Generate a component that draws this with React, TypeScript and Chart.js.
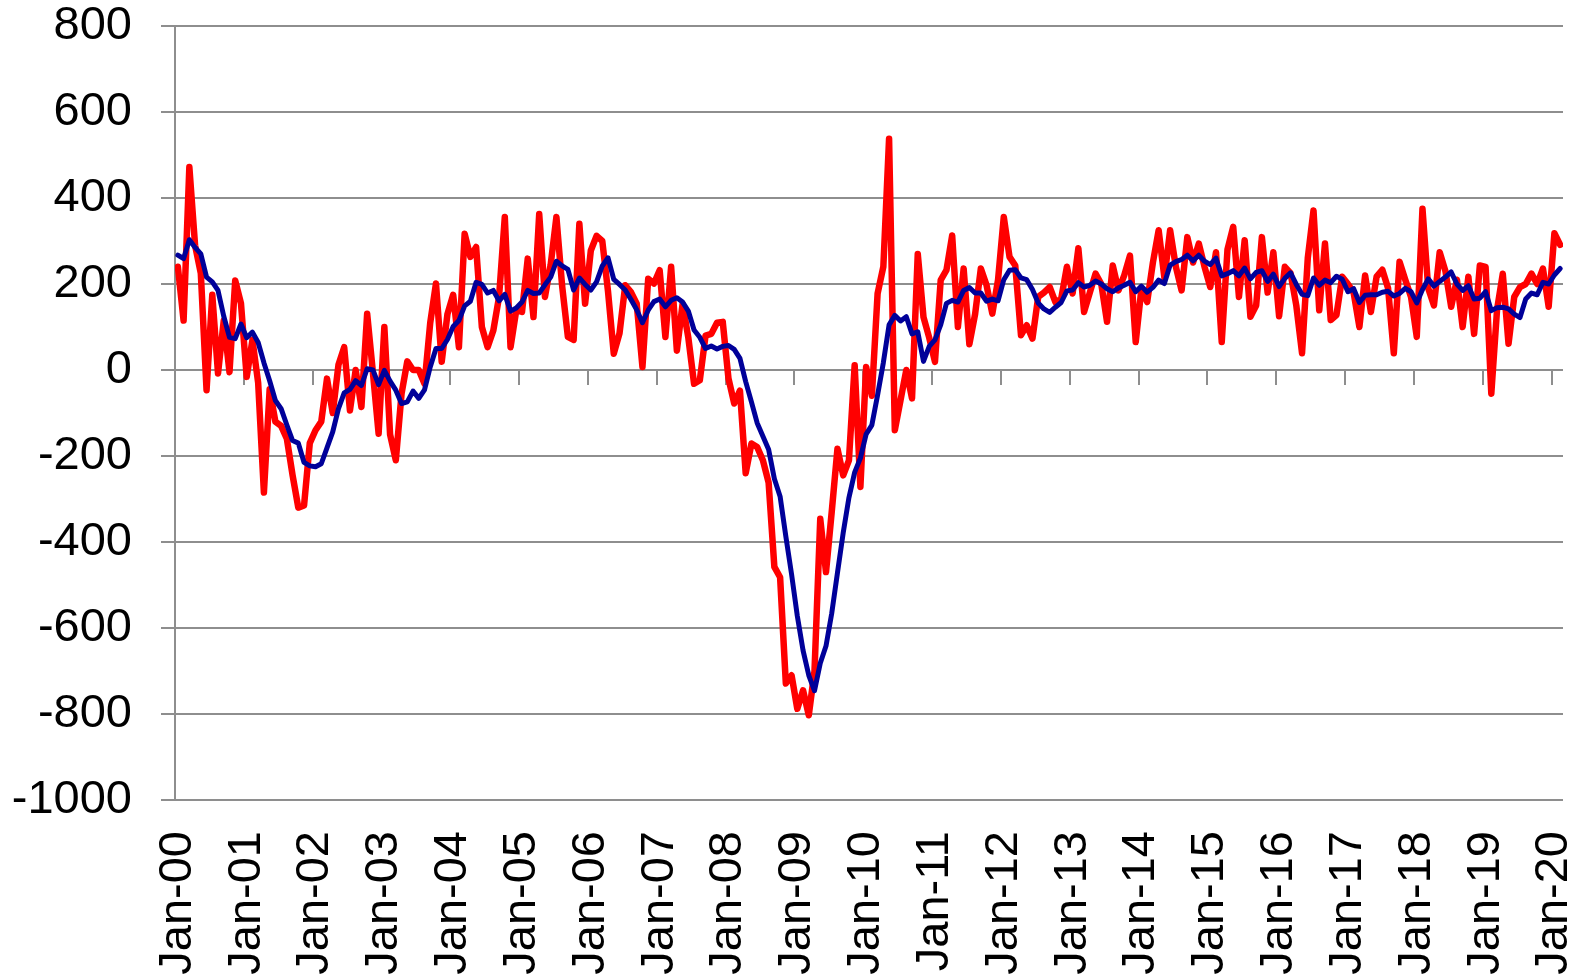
import React, { useEffect, useRef } from 'react';
import { Chart, registerables } from 'chart.js';

Chart.register(...registerables);

// Tick labels on the category axis (one every 12 months)
const yearLabels = [
  'Jan-00', 'Jan-01', 'Jan-02', 'Jan-03', 'Jan-04', 'Jan-05', 'Jan-06',
  'Jan-07', 'Jan-08', 'Jan-09', 'Jan-10', 'Jan-11', 'Jan-12', 'Jan-13',
  'Jan-14', 'Jan-15', 'Jan-16', 'Jan-17', 'Jan-18', 'Jan-19', 'Jan-20',
];

// Monthly change (red), Jan-00 .. Feb-20
const monthlyChange = [
  240, 115, 472, 290, 225, -47, 175, -8, 115, -5, 208, 155,
  -16, 70, -30, -285, -45, -120, -130, -160, -245, -320, -315, -170,
  -140, -120, -20, -100, 12, 53, -94, 0, -86, 131, -5, -148,
  100, -150, -210, -55, 20, 0, 0, -32, 110, 201, 19, 130,
  175, 53, 317, 263, 286, 100, 53, 92, 170, 356, 53, 139,
  135, 259, 123, 363, 170, 245, 356, 195, 77, 70, 340, 154,
  278, 312, 300, 182, 38, 85, 197, 181, 154, 7, 212, 201,
  232, 77, 240, 45, 154, 75, -32, -24, 80, 84, 110, 112,
  -20, -78, -48, -240, -171, -179, -210, -262, -458, -482, -729, -710,
  -788, -745, -803, -700, -346, -470, -330, -183, -245, -210, 11, -272,
  7, -60, 178, 240, 538, -140, -70, 0, -66, 270, 123, 75,
  19, 209, 232, 313, 100, 236, 60, 130, 236, 197, 131, 210,
  356, 263, 243, 81, 104, 73, 170, 180, 193, 158, 165, 240,
  178, 283, 135, 180, 224, 200, 112, 243, 185, 220, 266, 65,
  190, 158, 250, 325, 215, 325, 240, 185, 309, 250, 294, 240,
  193, 274, 65, 280, 333, 170, 302, 124, 150, 309, 180, 274,
  125, 240, 225, 150, 39, 260, 371, 139, 294, 116, 128, 217,
  200, 180, 100, 220, 135, 217, 233, 190, 39, 252, 210, 170,
  77, 375, 190, 150, 274, 230, 147, 210, 100, 217, 84, 243,
  240, -55, 140, 224, 61, 170, 193, 200, 224, 200, 236, 147,
  318, 291,
];

// Smoothed average (blue), Jan-00 .. Feb-20
const smoothedAverage = [
  267, 259, 303, 285, 270, 216, 205, 185, 125, 76, 73, 107,
  75, 88, 64, 17, -25, -71, -90, -128, -164, -170, -215, -223,
  -225, -218, -181, -144, -90, -53, -45, -25, -36, 3, 0, -34,
  -1, -26, -47, -78, -74, -49, -66, -46, 7, 50, 50, 71,
  101, 115, 149, 160, 204, 199, 179, 185, 161, 176, 137, 144,
  158, 185, 178, 179, 198, 216, 253, 242, 234, 186, 214, 199,
  186, 205, 242, 261, 211, 199, 186, 164, 140, 110, 139, 159,
  165, 147, 162, 168, 158, 137, 93, 76, 50, 56, 49, 55,
  57, 48, 27, -27, -74, -123, -154, -185, -253, -294, -387, -475,
  -572, -652, -710, -746, -682, -642, -566, -472, -379, -297, -238, -205,
  -149, -128, -58, 17, 105, 127, 114, 124, 84, 89, 20, 55,
  70, 105, 155, 162, 158, 185, 192, 179, 179, 160, 165, 161,
  210, 232, 233, 214, 210, 187, 156, 142, 134, 146, 157, 184,
  186, 203, 193, 197, 207, 200, 189, 182, 191, 197, 204, 182,
  195, 181, 192, 209, 201, 244, 252, 257, 267, 254, 267, 253,
  245, 260, 219, 224, 231, 219, 237, 212, 227, 231, 206, 223,
  194, 213, 226, 199, 176, 173, 214, 197, 209, 203, 218, 211,
  182, 189, 157, 174, 175, 175, 181, 183, 172, 178, 190, 182,
  156, 187, 212, 195, 206, 216, 228, 200, 185, 196, 165, 167,
  182, 138, 145, 146, 142, 130, 122, 165, 179, 175, 204, 200,
  221, 236,
];

const yMin = -1000;
const yMax = 800;
const yStep = 200;
const monthsPerLabel = 12;

const FONT_FAMILY = '"Liberation Sans", Arial, Helvetica, sans-serif';
const GRID_COLOR = '#8e8e8e';

export default function App() {
  const canvasRef = useRef<HTMLCanvasElement | null>(null);

  useEffect(() => {
    const canvas = canvasRef.current;
    if (!canvas) return;

    const zeroAxisTicks = {
      id: 'zeroAxisTicks',
      beforeDatasetsDraw(chart: any) {
        const xs = chart.scales.x;
        const ys = chart.scales.y;
        const c = chart.ctx;
        const y0 = ys.getPixelForValue(0);
        c.save();
        c.strokeStyle = GRID_COLOR;
        c.lineWidth = 2;
        yearLabels.forEach((_, k) => {
          const x = Math.round(xs.getPixelForValue(k * monthsPerLabel - 0.5));
          c.beginPath();
          c.moveTo(x, y0);
          c.lineTo(x, y0 + 15);
          c.stroke();
        });
        c.restore();
      },
    };

    const chart = new Chart(canvas, {
      type: 'line',
      data: {
        datasets: [
          {
            label: 'Average',
            data: smoothedAverage.map((v, i) => ({ x: i, y: v })),
            borderColor: '#000099',
            borderWidth: 5,
            pointRadius: 0,
            tension: 0,
            borderJoinStyle: 'round',
            borderCapStyle: 'round',
            order: 1,
          },
          {
            label: 'Monthly change',
            data: monthlyChange.map((v, i) => ({ x: i, y: v })),
            borderColor: '#ff0000',
            borderWidth: 6.5,
            pointRadius: 0,
            tension: 0,
            borderJoinStyle: 'round',
            borderCapStyle: 'round',
            order: 2,
          },
        ],
      },
      options: {
        animation: false,
        responsive: false,
        devicePixelRatio: 1,
        layout: { padding: { top: 26, right: 20, left: 0, bottom: 0 } },
        plugins: {
          legend: { display: false },
          tooltip: { enabled: false },
        },
        scales: {
          x: {
            type: 'linear',
            position: 'bottom',
            min: -0.5,
            max: monthlyChange.length - 0.5,
            grid: { display: false, drawTicks: false },
            border: { display: false },
            afterBuildTicks: (scale: any) => {
              scale.ticks = yearLabels.map((_, k) => ({ value: k * monthsPerLabel }));
            },
            afterFit: (scale: any) => {
              scale.height = 178;
              scale.paddingLeft = 0;
              scale.paddingRight = 0;
            },
            ticks: {
              autoSkip: false,
              minRotation: 90,
              maxRotation: 90,
              padding: 31,
              color: '#000',
              font: { family: FONT_FAMILY, size: 47 },
              callback: (value: any) => yearLabels[Math.round(Number(value) / monthsPerLabel)] ?? '',
            },
          },
          y: {
            min: yMin,
            max: yMax,
            grid: { color: GRID_COLOR, lineWidth: 2, tickLength: 14, drawTicks: true },
            border: { display: true, color: GRID_COLOR, width: 2 },
            afterFit: (scale: any) => {
              scale.width = 175;
              scale.paddingTop = 0;
              scale.paddingBottom = 0;
            },
            ticks: {
              stepSize: yStep,
              padding: 29,
              color: '#000',
              font: { family: FONT_FAMILY, size: 47 },
              callback: (value: any) => String(value),
            },
          },
        },
      },
      plugins: [zeroAxisTicks],
    } as any);

    return () => chart.destroy();
  }, []);

  return (
    <div style={{ position: 'absolute', left: 0, top: 0, width: 1583, height: 978, background: '#fff' }}>
      <canvas ref={canvasRef} width={1583} height={978} style={{ display: 'block' }} />
    </div>
  );
}
